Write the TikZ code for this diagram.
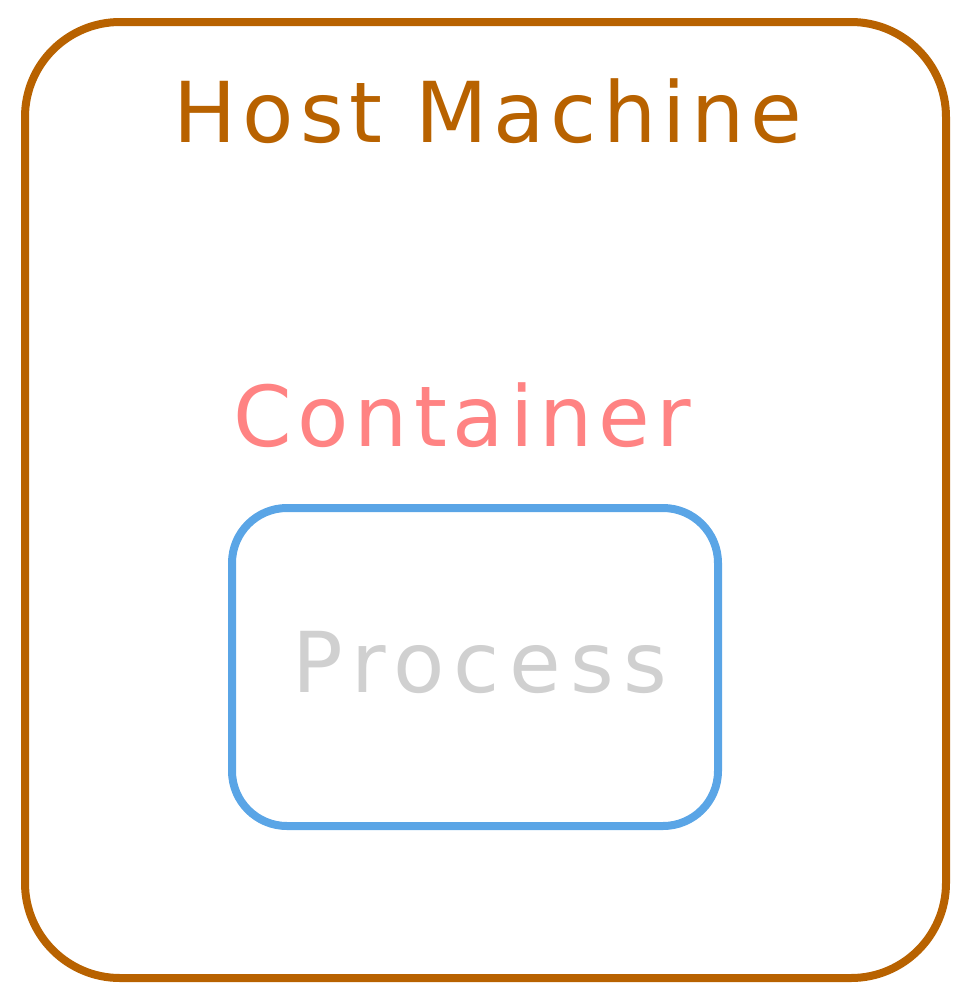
\documentclass[tikz,border=0pt]{standalone}
\usepackage{fontspec}
\setmainfont{DejaVu Sans}
\newfontfamily\widefont[LetterSpace=7]{DejaVu Sans}
\newfontfamily\widerfont[LetterSpace=11]{DejaVu Sans}
\definecolor{hostc}{HTML}{B86200}
\definecolor{contc}{HTML}{FF8383}
\definecolor{procb}{HTML}{5AA5E6}
\definecolor{proct}{HTML}{D0D0D0}
\tikzset{
  hostbox/.style={draw=hostc, line width=8pt, rounded corners=95pt},
  procbox/.style={draw=procb, line width=8pt, rounded corners=55pt},
  lbl/.style={inner sep=0pt, anchor=base}
}
\begin{document}
\begin{tikzpicture}[x=1pt,y=-1pt]
\useasboundingbox (0,0) rectangle (971,1004);
\draw[hostbox] (25,22) rectangle (946,978);
\draw[procbox] (232,508) rectangle (718,826);
\node[lbl, text=hostc, font=\widefont\fontsize{84}{90}\selectfont] (host) at (488,142) {Host Machine};
\node[lbl, text=contc, font=\widefont\fontsize{84}{90}\selectfont] (cont) at (462,446) {Container};
\node[lbl, text=proct, font=\widerfont\fontsize{84}{90}\selectfont] (proc) at (480,692) {Process};
\end{tikzpicture}
\end{document}
